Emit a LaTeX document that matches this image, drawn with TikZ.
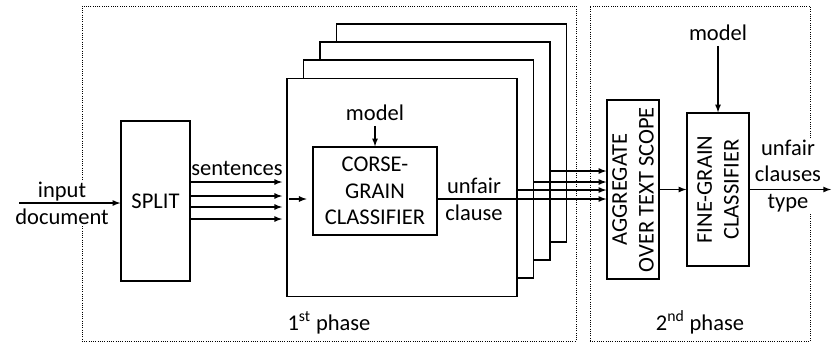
\documentclass[tikz,border=0pt]{standalone}
\usepackage{fontspec}
\setmainfont{Carlito}
\usetikzlibrary{arrows,positioning,calc}

\begin{document}
\begin{tikzpicture}[x=0.025cm, y=-0.025cm,
  every node/.style={font=\fontsize{16}{19}\selectfont},
  box/.style={rectangle, draw, line width=0.9pt, fill=white, inner sep=0pt},
  lbl/.style={align=center, inner sep=1pt},
  phase/.style={rectangle, draw, densely dotted, line width=0.6pt},
  arr/.style={-latex, line width=0.9pt}]
\useasboundingbox (0,0) rectangle (832,343);

% the two phases
\node [phase, minimum width=12.35cm, minimum height=8.375cm] (ph1) at (329,173.5) {};
\node [phase, minimum width=5.5cm, minimum height=8.375cm] (ph2) at (700,173.5) {};
\node (lab1) [above=2pt of ph1.south] {1\textsuperscript{st} phase};
\node (lab2) [above=2pt of ph2.south] {2\textsuperscript{nd} phase};

% input
\node [box, minimum width=1.725cm, minimum height=4cm] (split) at (155.5,201) {SPLIT};
\node [lbl, fill=white] (indoc) at (62,203) {input\\document};
\coordinate (in) at (19,203);
\draw [arr] (in) -- (split.west |- in);

% 2nd phase
\node [box, rotate=90, minimum width=4.475cm, minimum height=1.3cm, align=center] (agg) at (633,189.5) {AGGREGATE\\OVER TEXT SCOPE};
\node [box, rotate=90, minimum width=3.825cm, minimum height=1.55cm, align=center] (fine) at (718,189.5) {FINE-GRAIN\\CLASSIFIER};
\node (model2) at (718,33) {model};
\node [lbl, fill=white] (uct) at (788,176) {unfair\\clauses\\type};
\coordinate (out) at (831,189.5);
\draw [arr] (agg) -- (fine);
\draw [arr] (model2) -- (fine);
\draw [arr] (fine) -- (out);

% stacked classifiers, back to front
\node [box, minimum width=5.75cm, minimum height=5.45cm] (stack4) at (451.5,133) {};
\draw [arr] (stack4.center |- 0,171) -- (agg.north |- 0,171);
\node [box, minimum width=5.75cm, minimum height=5.45cm] (stack3) at (435,151) {};
\draw [arr] (stack3.center |- 0,182) -- (agg.north |- 0,182);
\node [box, minimum width=5.75cm, minimum height=5.45cm] (stack2) at (418.5,169) {};
\draw [arr] (stack2.center |- 0,190) -- (agg.north |- 0,190);
\node [box, minimum width=5.75cm, minimum height=5.45cm] (stack1) at (402,187.5) {};

\node [box, minimum width=3.1cm, minimum height=2.2cm, align=center] (cls) at (375,191) {CORSE-\\GRAIN\\CLASSIFIER};
\node (model1) at (375,113) {model};
\node [lbl] (uc) at (474,199) {unfair\\clause};
\draw [arr] (model1) -- (cls);
\draw [arr, shorten <=2pt, shorten >=4pt] (stack1.west |- 0,199) -- (cls.west |- 0,199);
\draw [arr] (cls.east |- 0,199) -- (agg.north |- 0,199);

% sentences
\node (sent) at (237,168) {sentences};
\draw [arr, shorten >=3pt] (split.east |- 0,182) -- (stack1.west |- 0,182);
\draw [arr, shorten >=3pt] (split.east |- 0,196) -- (stack1.west |- 0,196);
\draw [arr, shorten >=3pt] (split.east |- 0,207) -- (stack1.west |- 0,207);
\draw [arr, shorten >=3pt] (split.east |- 0,219) -- (stack1.west |- 0,219);
\end{tikzpicture}
\end{document}
